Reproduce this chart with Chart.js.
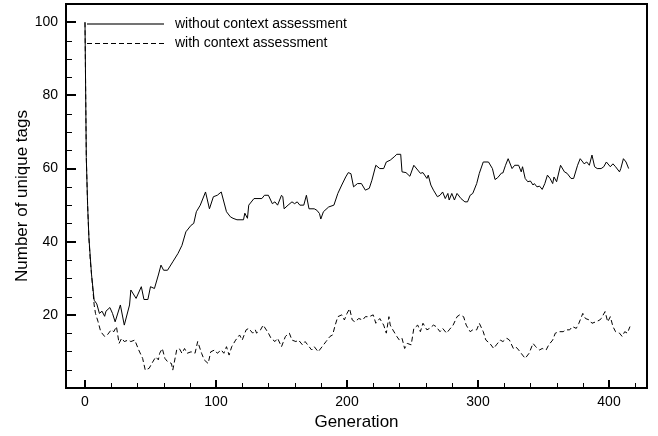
<!DOCTYPE html>
<html>
<head>
<meta charset="utf-8">
<script src="https://cdn.jsdelivr.net/npm/chart.js@4"></script>
<style>
  html, body { margin: 0; padding: 0; background: #fff; }
  #wrap { width: 658px; height: 436px; }
</style>
</head>
<body>
<div id="wrap"><canvas id="myChart" width="658" height="436"></canvas></div>
<script>
// generation / number of unique tags
const genWithout = [0, 1, 2, 3, 4, 5, 6, 7, 9, 11, 13, 15, 16, 19, 21, 23, 27, 30, 34, 35, 39, 43, 45, 48, 50, 53, 56, 58, 60, 63, 67, 71, 74, 77, 81, 83, 85, 88, 92, 95, 98, 101, 104, 108, 111, 113, 116, 121, 122, 124, 125, 129, 135, 137, 140, 143, 145, 147, 150, 151, 152, 155, 158, 160, 162, 164, 167, 169, 171, 175, 177, 179, 180, 182, 186, 190, 193, 196, 199, 201, 203, 205, 208, 211, 214, 217, 219, 222, 225, 228, 230, 233, 236, 238, 241, 242, 245, 248, 251, 254, 256, 258, 261, 262, 264, 266, 269, 271, 273, 275, 277, 278, 280, 282, 284, 287, 290, 292, 294, 296, 299, 301, 304, 308, 311, 313, 315, 318, 319, 321, 323, 326, 328, 331, 333, 334, 336, 338, 340, 342, 343, 345, 347, 349, 351, 353, 355, 357, 358, 360, 363, 366, 368, 371, 373, 376, 378, 380, 381, 383, 385, 387, 389, 391, 394, 396, 398, 401, 403, 405, 408, 409, 411, 413, 415];
const tagsWithout = [100, 63, 50, 41, 36, 31, 27.5, 24, 23, 20.4, 21, 19.6, 21, 22, 20.4, 18.1, 22.7, 17.2, 22.7, 26.8, 24.5, 27.7, 24.2, 24.2, 27.7, 27.2, 30.9, 33.6, 32.2, 32.2, 34.5, 36.8, 39, 42.7, 44.5, 45, 48.2, 50, 53.6, 49, 52.3, 52.7, 53.6, 48.2, 46.8, 46.4, 46, 46, 47.8, 46.4, 50, 51.8, 51.8, 52.7, 52.7, 50.4, 50.9, 50, 52.7, 52.3, 49, 50, 50.9, 50.4, 50.9, 50, 50, 52.7, 49, 49, 48.6, 47.7, 46.2, 48.2, 49.5, 50, 53.2, 55.5, 57.7, 58.9, 58.6, 55, 55.9, 55.9, 54.1, 54.6, 56.8, 60.9, 60, 60, 61.8, 62.3, 63.2, 63.9, 63.9, 59.1, 58.9, 57.9, 60.9, 59.6, 58.7, 58.9, 57.3, 58.2, 55.5, 54.1, 52.3, 52.7, 53.6, 51.8, 53.2, 51.4, 53.2, 51.4, 53.2, 51.8, 50.9, 50.9, 52.7, 53.2, 55.9, 58.7, 61.8, 61.8, 60, 57, 57.5, 58.8, 58.8, 60.9, 62.7, 60, 60.9, 60.9, 59.1, 60.5, 57.3, 56.4, 56.6, 55.5, 55.9, 55, 55.2, 54.3, 55.9, 58.2, 57.3, 55.9, 57.7, 56.4, 60.9, 59.1, 58.7, 57.3, 57.3, 60.9, 62.7, 61.8, 61.3, 61.8, 60.9, 63.7, 60.5, 60, 60, 60.5, 61.8, 60.5, 61.3, 60.5, 59.1, 60, 62.7, 61.8, 60];

const genWith = [0, 1, 2, 3, 4, 5, 6, 7, 8, 10, 12, 15, 17, 20, 22, 24, 26, 28, 30, 33, 35, 38, 41, 44, 46, 49, 51, 54, 56, 57, 59, 61, 63, 66, 67, 70, 72, 74, 76, 78, 81, 84, 86, 89, 91, 94, 96, 99, 101, 104, 106, 108, 110, 112, 115, 118, 120, 123, 125, 128, 130, 131, 134, 136, 140, 142, 145, 147, 150, 153, 156, 158, 161, 163, 166, 168, 170, 173, 175, 178, 181, 184, 187, 189, 191, 193, 196, 198, 200, 202, 204, 206, 209, 212, 214, 217, 220, 222, 225, 228, 230, 232, 233, 235, 238, 240, 242, 244, 246, 249, 251, 254, 256, 258, 261, 263, 266, 268, 271, 273, 276, 278, 281, 284, 286, 289, 291, 294, 296, 299, 301, 304, 306, 309, 312, 314, 317, 319, 322, 324, 327, 329, 331, 334, 336, 339, 342, 344, 347, 349, 352, 354, 357, 359, 362, 365, 367, 370, 372, 375, 377, 380, 382, 385, 387, 390, 393, 394, 397, 399, 401, 403, 405, 408, 410, 412, 414, 416];
const tagsWith = [100, 63, 50, 41, 35, 31, 27, 22.7, 20.4, 18.1, 15.4, 14.1, 14.5, 15.9, 15.4, 16.8, 12.2, 13.6, 12.7, 13.1, 12.7, 13.1, 10.4, 8.1, 4.9, 5.4, 6.7, 8.5, 7.7, 9.5, 10.8, 8.1, 7.2, 6.7, 4.9, 10.4, 10.8, 9.5, 10.8, 9.5, 9.9, 9.5, 12.7, 9.5, 7.7, 6.7, 9.9, 10.4, 9.5, 10.4, 9.5, 11.3, 9, 11.3, 13.1, 14.5, 13.1, 15.9, 16.3, 15, 15.9, 15, 15.9, 17.2, 15, 13.6, 12.7, 13.6, 11.3, 14.1, 15, 13.1, 12.7, 13.1, 11.8, 12.7, 11.8, 10.4, 11.3, 9.9, 11.3, 12.7, 14.1, 14.5, 17.2, 19.5, 20, 18.6, 20.4, 21.7, 18.6, 18.1, 19, 18.6, 19.5, 19.5, 20, 17.7, 19, 17.2, 15, 19.5, 17.2, 15.9, 14.1, 13.1, 13.6, 10.8, 12.2, 11.8, 16.3, 17.2, 15.4, 17.7, 15.9, 16.3, 17.2, 16.8, 15.4, 16.3, 15, 15.9, 17.2, 19.5, 20, 19.5, 17.2, 15.4, 15.9, 15.9, 17.7, 15.4, 13.1, 12.2, 10.8, 11.8, 13.1, 12.7, 13.6, 13.1, 10.8, 11.2, 10.4, 9, 8.1, 9.5, 12.2, 11.3, 10.4, 10.8, 10.4, 11.8, 13.1, 15, 15.4, 15.4, 15.9, 15.9, 16.8, 16.3, 17.7, 20.4, 19, 18.6, 17.7, 18.1, 18.6, 19, 20.9, 18.1, 19.5, 16.8, 15.4, 15, 14.1, 15.4, 15, 16.8];

const xTicks = [0, 100, 200, 300, 400];
const yTicks = [20, 40, 60, 80, 100];

const FONT = "'Liberation Sans', Arial, Helvetica, sans-serif";

function toPoints(xs, ys) {
    return xs.map((x, i) => ({ x: x, y: ys[i] }));
}

// inward tick marks, frame and in-plot legend
const framePlugin = {
    id: 'frame',
    afterDraw(chart) {
        const ctx = chart.ctx;
        const a = chart.chartArea;
        const xs = chart.scales.x;
        const ys = chart.scales.y;
        ctx.save();
        ctx.strokeStyle = '#000';
        ctx.lineCap = 'butt';

        // x ticks, every 20 with majors at labels
        for (let v = 0; v <= 420; v += 20) {
            const px = Math.round(xs.getPixelForValue(v));
            const major = xTicks.includes(v);
            ctx.lineWidth = major ? 2 : 1;
            ctx.beginPath();
            ctx.moveTo(px + (major ? 0 : 0.5), a.bottom);
            ctx.lineTo(px + (major ? 0 : 0.5), a.bottom - (major ? 8 : 5));
            ctx.stroke();
        }
        // y ticks, every 5
        for (let v = 5; v <= 100; v += 5) {
            const py = Math.round(ys.getPixelForValue(v));
            const major = yTicks.includes(v);
            ctx.lineWidth = major ? 2 : 1;
            ctx.beginPath();
            ctx.moveTo(a.left, py + (major ? 0 : 0.5));
            ctx.lineTo(a.left + (major ? 10 : 6), py + (major ? 0 : 0.5));
            ctx.stroke();
        }

        ctx.lineWidth = 2;
        ctx.strokeRect(a.left, a.top, a.right - a.left, a.bottom - a.top);

        // legend
        const ds = chart.data.datasets;
        ctx.font = '14px ' + FONT;
        ctx.fillStyle = '#000';
        ctx.textBaseline = 'middle';
        ds.forEach((d, i) => {
            const y = a.top + 20 + i * 19.5;
            ctx.lineWidth = i === 0 ? 1.5 : 1;
            ctx.strokeStyle = i === 0 ? '#444' : '#000';
            ctx.setLineDash(d.borderDash || []);
            ctx.beginPath();
            ctx.moveTo(a.left + 21, y);
            ctx.lineTo(a.left + 98, y);
            ctx.stroke();
            ctx.setLineDash([]);
            ctx.fillText(d.label, a.left + 109, y);
        });
        ctx.restore();
    }
};

const ctx = document.getElementById('myChart').getContext('2d');

const chart = new Chart(ctx, {
    type: 'line',
    data: {
        datasets: [
            {
                label: 'without context assessment',
                data: toPoints(genWithout, tagsWithout),
                borderColor: '#000',
                borderWidth: 1,
                pointRadius: 0,
                tension: 0,
            },
            {
                label: 'with context assessment',
                data: toPoints(genWith, tagsWith),
                borderColor: '#000',
                borderWidth: 1,
                borderDash: [5, 3],
                pointRadius: 0,
                tension: 0,
            },
        ],
    },
    options: {
        responsive: false,
        animation: false,
        events: [],
        layout: { padding: { top: 4, right: 11, left: 0, bottom: 0 } },
        plugins: {
            legend: { display: false },
            tooltip: { enabled: false },
        },
        scales: {
            x: {
                type: 'linear',
                min: -14.5,
                max: 429,
                afterBuildTicks: (s) => { s.ticks = xTicks.map((v) => ({ value: v })); },
                afterFit: (s) => { s.height = 48; s.paddingLeft = 0; s.paddingRight = 0; },
                grid: { display: false, drawTicks: false },
                border: { display: false },
                ticks: { color: '#000', padding: 6, maxRotation: 0, font: { family: FONT, size: 14 } },
                title: {
                    display: true,
                    text: 'Generation',
                    color: '#000',
                    font: { family: FONT, size: 17 },
                    padding: { top: 0, bottom: 3 },
                },
            },
            y: {
                min: 0,
                max: 105,
                afterBuildTicks: (s) => { s.ticks = yTicks.map((v) => ({ value: v })); },
                afterFit: (s) => { s.width = 66; s.paddingTop = 0; s.paddingBottom = 0; },
                grid: { display: false, drawTicks: false },
                border: { display: false },
                ticks: { color: '#000', padding: 8, font: { family: FONT, size: 14 } },
                title: {
                    display: true,
                    text: 'Number of unique tags',
                    color: '#000',
                    font: { family: FONT, size: 17 },
                    padding: { top: 12, bottom: 0 },
                },
            },
        },
    },
    plugins: [framePlugin],
});
</script>
</body>
</html>
